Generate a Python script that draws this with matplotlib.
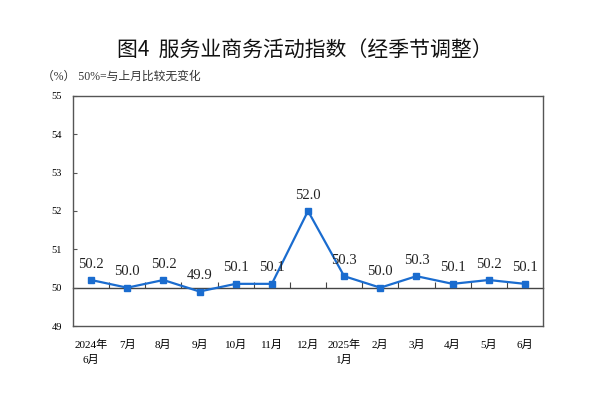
import matplotlib.pyplot as plt
import numpy as np

# 数据
months = ['2024年\n6月', '7月', '8月', '9月', '10月', '11月', '12月',
          '2025年\n1月', '2月', '3月', '4月', '5月', '6月']
values = [50.2, 50.0, 50.2, 49.9, 50.1, 50.1, 52.0, 50.3, 50.0, 50.3, 50.1, 50.2, 50.1]
yticks = [49, 50, 51, 52, 53, 54, 55]

serif = ['Liberation Serif', 'Noto Sans CJK SC']
sans = ['Noto Sans CJK SC', 'DejaVu Sans']

fig = plt.figure(figsize=(6.16, 4.16), dpi=100)
ax = fig.add_axes([0.1185, 0.2163, 0.763, 0.553])

x = np.arange(len(values))
ax.plot(x, values, color='#1a6ccf', linewidth=1.6, marker='s', markersize=4.5, zorder=3)

for xi, v in zip(x, values):
    ax.annotate(f'{v:.1f}', (xi, v), xytext=(0, 11.5), textcoords='offset points',
                ha='center', va='center', fontsize=10.5, family=serif, color='#222222')

ax.set_xlim(-0.5, len(values) - 0.5)
ax.set_ylim(49, 55)
ax.set_yticks(yticks)
ax.set_yticklabels([str(t) for t in yticks], family=serif, fontsize=7.5)
ax.tick_params(axis='y', direction='in', length=3, pad=8, color='#555555')

ax.set_xticks(x)
ax.set_xticklabels(months, family=serif, fontsize=8, linespacing=1.6)
ax.tick_params(axis='x', length=0, pad=10)

for s in ax.spines.values():
    s.set_color('#555555')
    s.set_linewidth(1.0)

# 50 基准线及刻度
sec = ax.secondary_xaxis(1 / 6)
sec.set_xticks(np.arange(len(values) - 1) + 0.5)
sec.set_xticklabels([])
sec.tick_params(direction='in', length=4, color='#444444')
sec.spines['bottom'].set_color('#444444')
sec.spines['bottom'].set_linewidth(1.0)

fig.text(0.495, 0.878, '图4  服务业商务活动指数（经季节调整）', ha='center', va='center',
         fontsize=15, family=sans, color='#111111')
fig.text(0.068, 0.815, '（%） 50%=与上月比较无变化', ha='left', va='center',
         fontsize=8.5, family=serif, color='#333333')

fig.savefig('out.png', dpi=100)
